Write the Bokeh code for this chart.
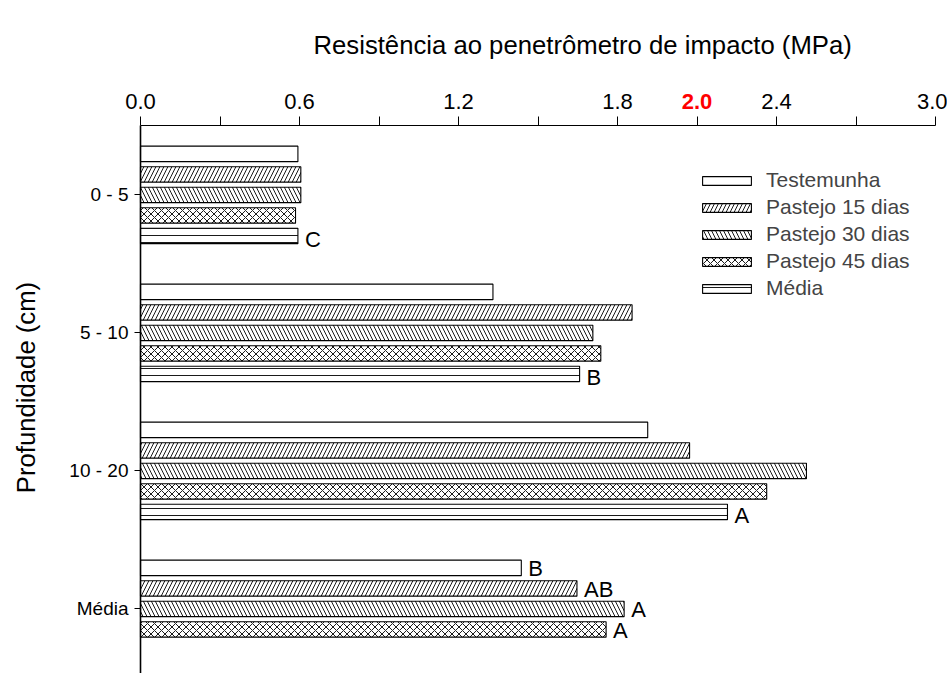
import math

from bokeh.core.properties import value
from bokeh.embed import file_html
from bokeh.models import (ColumnDataSource, FixedTicker, Label, Legend,
                          LegendItem, LinearAxis, Range1d)
from bokeh.plotting import figure
from bokeh.resources import INLINE

# Penetration resistance (MPa) by soil depth and grazing interval
depths = ["0 - 5", "5 - 10", "10 - 20", "Média"]
series_names = ["Testemunha", "Pastejo 15 dias", "Pastejo 30 dias",
                "Pastejo 45 dias", "Média"]
testemunha = [0.594, 1.330, 1.914, 1.437]
pastejo_15 = [0.605, 1.855, 2.072, 1.647]
pastejo_30 = [0.605, 1.707, 2.513, 1.825]
pastejo_45 = [0.585, 1.737, 2.363, 1.757]
media_depth = [0.594, 1.657, 2.215]          # mean of each depth layer
media_letters = ["C", "B", "A"]               # Tukey letters, depth means
treatment_letters = ["B", "AB", "A", "A"]     # Tukey letters, treatment means
x_major_ticks = [0.0, 0.6, 1.2, 1.8, 2.4, 3.0]
x_minor_ticks = [0.3, 0.9, 1.5, 2.1, 2.7]
highlight_tick = 2.1
highlight_label = "2.0"

FONT = "Liberation Sans"
W, H = 947, 673
TOP = 63                    # room for the title

# the frame spans the whole width; both axes are pinned inside it
px_per_mpa = 265.0
x0_px = 140.0
x_start = -x0_px / px_per_mpa
x_end = (W - x0_px) / px_per_mpa

group_pos = list(range(len(depths)))
px_per_group = 138.0
bar_pitch = 0.1486
bar_height = 0.112
axis_y = -0.5               # where the value axis sits (data units)
y_top = (TOP - 194.0) / px_per_group
y_bottom = y_top + (H - TOP) / px_per_group

p = figure(width=W, height=H, output_backend="svg", toolbar_location=None,
           x_range=Range1d(x_start, x_end), y_range=Range1d(y_bottom, y_top),
           x_axis_location="above",
           min_border_left=0, min_border_right=0,
           min_border_top=TOP, min_border_bottom=0)
p.outline_line_color = None
p.xgrid.visible = False
p.ygrid.visible = False

p.title.text = "Resistência ao penetrômetro de impacto (MPa)"
p.title.align = "left"
p.title.offset = 313
p.title.text_font = FONT
p.title.text_font_size = "25.7px"
p.title.text_font_style = "normal"
p.title.text_color = "black"

styles = [
    dict(),
    dict(hatch_pattern="/", hatch_scale=8),
    dict(hatch_pattern="\\", hatch_scale=8),
    dict(hatch_pattern="x", hatch_scale=7),
    dict(hatch_pattern="-", hatch_scale=7),
]
values = [testemunha, pastejo_15, pastejo_30, pastejo_45, media_depth]

renderers = []
for i, (vals, st) in enumerate(zip(values, styles)):
    ys = [g + (i - 2) * bar_pitch + 0.003 for g in group_pos[:len(vals)]]
    src = ColumnDataSource(dict(y=ys, right=vals))
    r = p.hbar(y="y", left=0, right="right", height=bar_height, source=src,
               fill_color="white", line_color="black", line_width=1.1,
               hatch_color="black", hatch_weight=0.9, **st)
    renderers.append(r)


def letters(ys, xs, labels, dy):
    """Significance letters to the right of the bars."""
    src = ColumnDataSource(dict(y=[y + dy for y in ys], x=xs, t=labels))
    p.text(x="x", y="y", text="t", source=src, x_offset=7,
           text_font=value(FONT), text_font_size="22px",
           text_baseline="middle", text_align="left", text_color="black")


letters([g + 2 * bar_pitch for g in group_pos[:3]], media_depth,
        media_letters, 0.03)
tr_vals = [testemunha[3], pastejo_15[3], pastejo_30[3], pastejo_45[3]]
letters([3 + (i - 2) * bar_pitch for i in range(4)], tr_vals,
        treatment_letters, 0.01)

# value axis along the top
xa = p.xaxis[0]
xa.fixed_location = axis_y
xa.bounds = (0, 3.0)
xa.ticker = FixedTicker(ticks=x_major_ticks, minor_ticks=x_minor_ticks)
xa.major_label_overrides = {t: f"{t:.1f}" for t in x_major_ticks}
xa.major_label_text_font = FONT
xa.major_label_text_font_size = "22px"
xa.major_label_text_color = "black"
xa.major_label_standoff = 8
xa.major_tick_out = 9
xa.major_tick_in = 0
xa.minor_tick_out = 9
xa.minor_tick_in = 0
xa.axis_line_color = "black"
xa.major_tick_line_color = "black"
xa.minor_tick_line_color = "black"

# highlighted reference label on the same axis line
hx = LinearAxis(fixed_location=axis_y,
                ticker=FixedTicker(ticks=[highlight_tick], minor_ticks=[]),
                major_label_overrides={highlight_tick: highlight_label},
                major_label_text_font=FONT, major_label_text_font_size="22px",
                major_label_text_font_style="bold",
                major_label_text_color="red", major_label_standoff=8,
                major_tick_out=9, major_tick_in=0,
                axis_line_color=None, major_tick_line_color=None,
                minor_tick_line_color=None)
p.add_layout(hx, "above")

# depth axis
ya = p.yaxis[0]
ya.fixed_location = 0
ya.bounds = (axis_y, y_bottom)
ya.ticker = FixedTicker(ticks=group_pos, minor_ticks=[])
ya.major_label_overrides = {g: d for g, d in zip(group_pos, depths)}
ya.major_label_text_font = FONT
ya.major_label_text_font_size = "19px"
ya.major_label_text_color = "black"
ya.major_label_standoff = 6
ya.major_tick_out = 6
ya.major_tick_in = 0
ya.axis_line_width = 1.6
ya.axis_line_color = "black"
ya.major_tick_line_color = "black"

p.add_layout(Label(x=25, y=H - 387, x_units="screen", y_units="screen",
                   angle=math.pi / 2, text="Profundidade (cm)",
                   text_font=FONT, text_font_size="25.7px",
                   text_color="black", text_align="center",
                   text_baseline="middle"))

legend = Legend(
    items=[LegendItem(label=n, renderers=[r])
           for n, r in zip(series_names, renderers)],
    location=(696, 373),
    glyph_width=61, glyph_height=11, label_standoff=9, spacing=3,
    label_height=21, padding=0, margin=0,
    label_text_font=FONT, label_text_font_size="21px",
    border_line_color=None, background_fill_alpha=0,
)
p.add_layout(legend)

open("out.html", "w").write(file_html(p, INLINE))
